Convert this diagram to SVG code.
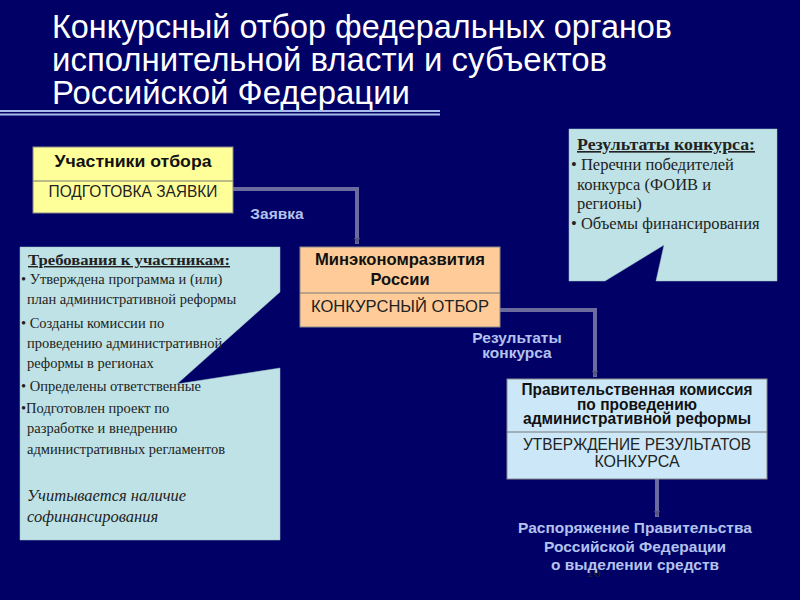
<svg xmlns="http://www.w3.org/2000/svg" width="800" height="600" viewBox="0 0 800 600">
<defs>
<style>
.title{font-family:"Liberation Sans",Arial,sans-serif;font-size:33px;fill:#ffffff}
.box{stroke:#8a8a8a;stroke-width:1}
.div{stroke:#777;stroke-width:1}
.hb{font-family:"Liberation Sans",Arial,sans-serif;font-weight:bold;font-size:16.5px;fill:#111;text-anchor:middle}
.hn{font-family:"Liberation Sans",Arial,sans-serif;font-size:16px;fill:#222;text-anchor:middle}
.lbl{font-family:"Liberation Sans",Arial,sans-serif;font-weight:bold;font-size:15.5px;fill:#b4c2ee;text-anchor:middle}
.ct{font-family:"Liberation Serif","Times New Roman",serif;font-size:14.5px;fill:#222}
.cr{font-size:16.5px}
.ctb{font-weight:bold;text-decoration:underline}
.cti{font-style:italic;font-size:16.5px}
.conn{fill:none;stroke:#6b6b9e;stroke-width:4}
.call{fill:#bfe2e6;stroke:#9fc4c8;stroke-width:0.5}
</style>
<marker id="ah" markerWidth="8" markerHeight="6" refX="6" refY="3" orient="auto" markerUnits="userSpaceOnUse">
<path d="M0,0 L6,3 L0,6 Z" fill="#55557f"/>
</marker>
</defs>
<rect x="0" y="0" width="800" height="600" fill="#000066"/>
<g id="title">
<text class="title" x="52" y="38" textLength="620" lengthAdjust="spacingAndGlyphs">Конкурсный отбор федеральных органов</text>
<text class="title" x="52" y="71" textLength="555" lengthAdjust="spacingAndGlyphs">исполнительной власти и субъектов</text>
<text class="title" x="52" y="104" textLength="358" lengthAdjust="spacingAndGlyphs">Российской Федерации</text>
<line x1="0" y1="111" x2="440" y2="111" stroke="#a8bcec" stroke-width="2"/>
<line x1="0" y1="114.5" x2="440" y2="114.5" stroke="#a8bcec" stroke-width="2"/>
</g>
<g id="connectors">
<polyline class="conn" points="233,189 357,189 357,244" marker-end="url(#ah)"/>
<polyline class="conn" points="500,310 595,310 595,377" marker-end="url(#ah)"/>
<line class="conn" x1="657" y1="479" x2="657" y2="517" marker-end="url(#ah)"/>
<text class="lbl" x="277" y="219">Заявка</text>
<text class="lbl" x="517" y="343">Результаты</text>
<text class="lbl" x="517" y="358">конкурса</text>
</g>
<g id="participants">
<rect class="box" x="33" y="147" width="200" height="66" fill="#ffff99"/>
<line class="div" x1="33" y1="181" x2="233" y2="181"/>
<text class="hb" x="133" y="167" textLength="157" lengthAdjust="spacingAndGlyphs">Участники отбора</text>
<text class="hn" x="133" y="197" textLength="169" lengthAdjust="spacingAndGlyphs">ПОДГОТОВКА ЗАЯВКИ</text>
</g>
<g id="requirements">
<polygon class="call" points="20,247 280,247 280,292 177,384 280,368 280,540 20,540"/>
<text class="ct ctb" x="28" y="265" textLength="202" lengthAdjust="spacingAndGlyphs">Требования к участникам:</text>
<text class="ct" x="21" y="284">• Утверждена программа и (или)</text>
<text class="ct" x="27" y="304">план административной реформы</text>
<text class="ct" x="21" y="328">• Созданы комиссии по</text>
<text class="ct" x="27" y="348">проведению административной</text>
<text class="ct" x="27" y="368">реформы в регионах</text>
<text class="ct" x="21" y="391">• Определены ответственные</text>
<text class="ct" x="21" y="413">•Подготовлен проект по</text>
<text class="ct" x="27" y="433">разработке и внедрению</text>
<text class="ct" x="27" y="454">административных регламентов</text>
<text class="ct cti" x="27" y="501">Учитывается наличие</text>
<text class="ct cti" x="27" y="522">софинансирования</text>
</g>
<g id="ministry">
<rect class="box" x="300" y="247" width="200" height="80" fill="#ffcc99"/>
<line class="div" x1="300" y1="293" x2="500" y2="293"/>
<text class="hb" x="400" y="265" textLength="170" lengthAdjust="spacingAndGlyphs">Минэкономразвития</text>
<text class="hb" x="400" y="285">России</text>
<text class="hn" x="400" y="312" textLength="178" lengthAdjust="spacingAndGlyphs">КОНКУРСНЫЙ ОТБОР</text>
</g>
<g id="results">
<polygon class="call" points="569,129 777,129 777,281 656,281 664,245 605,281 569,281"/>
<text class="ct cr ctb" x="577" y="150" textLength="178" lengthAdjust="spacingAndGlyphs">Результаты конкурса:</text>
<text class="ct cr" x="571" y="170">• Перечни победителей</text>
<text class="ct cr" x="577" y="190">конкурса (ФОИВ и</text>
<text class="ct cr" x="577" y="209">регионы)</text>
<text class="ct cr" x="571" y="229">• Объемы финансирования</text>
</g>
<g id="commission">
<rect class="box" x="507" y="379" width="260" height="100" fill="#cce8f8"/>
<line class="div" x1="507" y1="432" x2="767" y2="432"/>
<text class="hb" x="637" y="395" font-size="14" textLength="231" lengthAdjust="spacingAndGlyphs">Правительственная комиссия</text>
<text class="hb" x="637" y="409.5" font-size="14" textLength="120" lengthAdjust="spacingAndGlyphs">по проведению</text>
<text class="hb" x="637" y="424" font-size="14" textLength="228" lengthAdjust="spacingAndGlyphs">административной реформы</text>
<text class="hn" x="637" y="450" font-size="15.5" textLength="228" lengthAdjust="spacingAndGlyphs">УТВЕРЖДЕНИЕ РЕЗУЛЬТАТОВ</text>
<text class="hn" x="637" y="467" font-size="15.5">КОНКУРСА</text>
</g>
<g id="decree">
<text class="ct" x="586" y="577" fill="#26267a" font-size="16">16</text>
<text class="lbl" x="635" y="533">Распоряжение Правительства</text>
<text class="lbl" x="635" y="552">Российской Федерации</text>
<text class="lbl" x="635" y="570">о выделении средств</text>
</g>
</svg>
